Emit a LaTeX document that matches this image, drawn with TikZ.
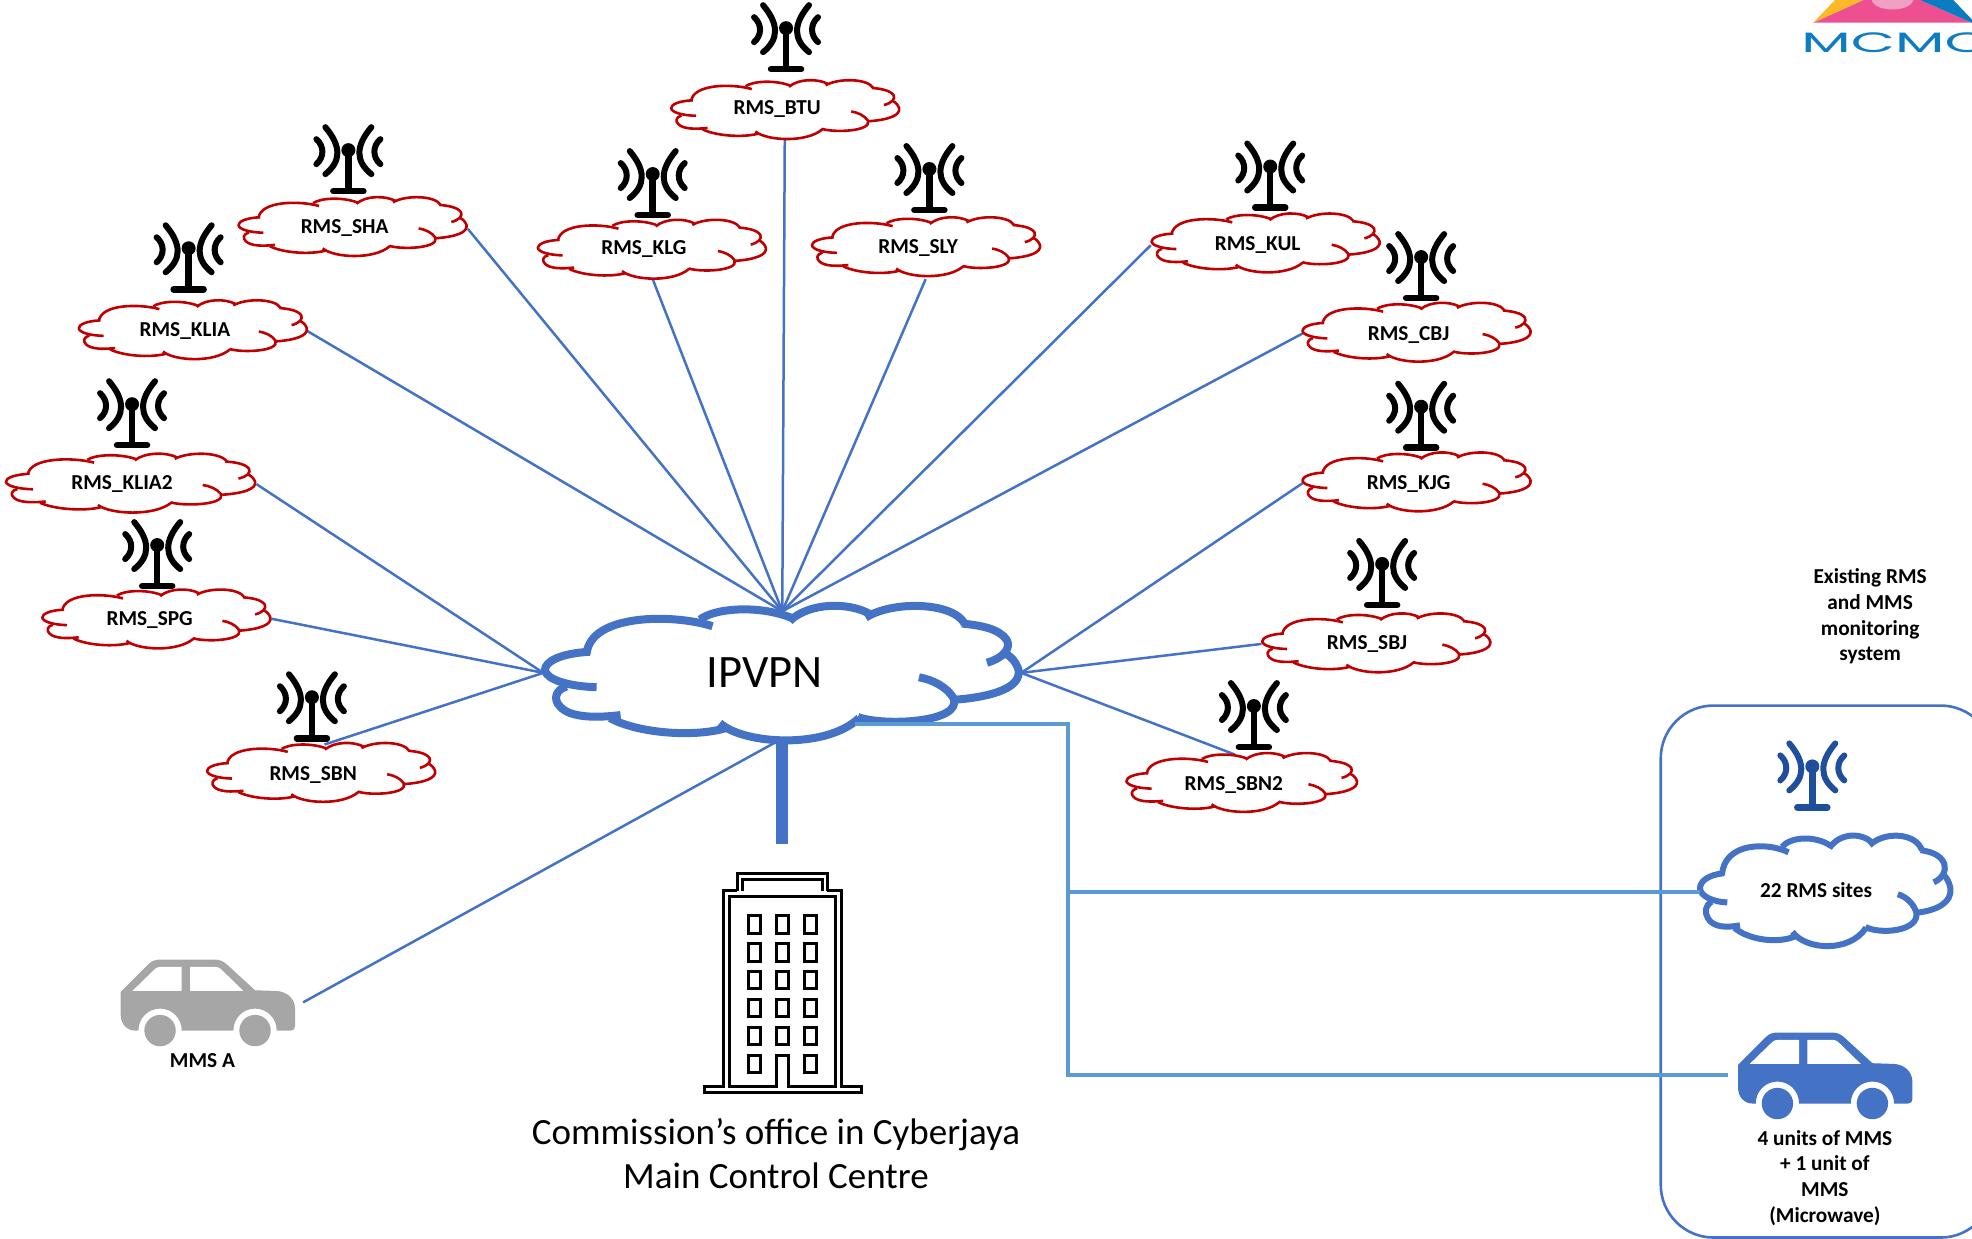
\documentclass[tikz,border=0pt]{standalone}
\usepackage{fontspec}
\setmainfont{Carlito}
\newfontfamily\logofont{Poppins}
\definecolor{mblue}{HTML}{4472C4}
\definecolor{lblue}{HTML}{5B9BD5}
\definecolor{mred}{HTML}{C00000}
\definecolor{dblue}{HTML}{1F4E9C}
\definecolor{cargrey}{HTML}{A6A6A6}
\tikzset{
  lbl/.style={font=\fontsize{21.3}{25.7}\selectfont\bfseries,text=black,inner sep=0pt,align=center},
  biglbl/.style={font=\fontsize{37}{44.5}\selectfont,text=black,inner sep=0pt,align=center},
  thinlink/.style={draw=mblue,line width=2.5pt},
  lightlink/.style={draw=lblue,line width=4pt},
  redcloud/.style={draw=mred,line width=2.6pt},
}
% cloud: left, top, width, height, style
\newcommand\cloudicon[5]{%
\begin{scope}[shift={(#1,#2)},xscale=#3/1435,yscale=#4/425,shift={(-40,-40)},#5,line join=round]
 \draw (180,185) .. controls (90,190) and (45,215) .. (45,240) .. controls (48,270) and (120,290) .. (200,292);
 \draw (110,290) .. controls (75,300) and (70,330) .. (90,350) .. controls (120,385) and (200,385) .. (272,376);
 \draw (240,385) .. controls (320,430) and (490,445) .. (590,415);
 \draw (570,400) .. controls (640,465) and (890,480) .. (988,385);
 \draw (985,382) .. controls (1060,410) and (1300,400) .. (1272,325) .. controls (1250,290) and (1210,270) .. (1168,262);
 \draw (1275,330) .. controls (1400,320) and (1475,290) .. (1467,240) .. controls (1460,215) and (1440,195) .. (1425,190);
 \draw (1372,218) .. controls (1420,205) and (1445,175) .. (1432,150) .. controls (1410,115) and (1350,105) .. (1297,100);
 \draw (1305,100) .. controls (1270,35) and (1090,30) .. (1008,82);
 \draw (1022,72) .. controls (960,35) and (840,35) .. (780,92);
 \draw (790,85) .. controls (700,45) and (560,50) .. (510,88);
 \draw (548,108) .. controls (430,70) and (180,70) .. (170,192);
\end{scope}}
% antenna: x, y of the middle of the foot, colour
\newcommand\antennaicon[3]{%
\begin{scope}[shift={(#1,#2)},x=1pt,y=1pt,#3]
 \draw[line width=6.5pt,line cap=round] (-15,0) -- (15,0);
 \draw[line width=6.5pt] (0,41) -- (0,0);
 \fill (0,41) circle (7pt);
 \foreach \s in {-1,1}{
  \draw[line width=6pt,line cap=round] (\s*23,64) .. controls (\s*7,45) and (\s*7,30) .. (\s*23,17);
  \draw[line width=6pt,line cap=round] (\s*32,52) .. controls (\s*24,45) and (\s*24,34) .. (\s*32,27);
 }
\end{scope}}
% car: left, top, colour
\newcommand\caricon[3]{%
\begin{scope}[shift={(#1,#2)},x=.3333pt,y=-.3333pt,shift={(-62,-58)}]
 \fill[#3] (62,225) -- (62,155) -- (145,72) .. controls (155,62) and (165,58) .. (175,58) -- (345,58)
   .. controls (360,58) and (372,64) .. (382,74) -- (465,150) -- (525,152) .. controls (560,152) and (585,175) .. (585,205)
   -- (585,258) .. controls (585,266) and (580,271) .. (572,271) -- (530,271)
   .. controls (530,234) and (501,205) .. (465,205) .. controls (429,205) and (400,234) .. (400,271)
   -- (245,271) .. controls (245,234) and (216,205) .. (180,205) .. controls (144,205) and (115,234) .. (115,271)
   -- (105,271) .. controls (80,271) and (62,250) .. (62,225) -- cycle;
 \fill[#3] (180,271) circle (15.7pt) (465,271) circle (15.7pt);
 \fill[white] (97,152) -- (165,86) .. controls (170,82) and (175,80) .. (180,80) -- (245,80) -- (245,152) -- cycle;
 \fill[white] (270,80) -- (345,80) .. controls (352,80) and (358,82) .. (362,86) -- (430,152) -- (270,152) -- cycle;
\end{scope}}
\begin{document}
\begin{tikzpicture}[x=1.2577pt,y=-1.2577pt]
\useasboundingbox (0,0) rectangle (1568,985.15);
\clip (0,0) rectangle (1568,985.15);

% logo
\begin{scope}[shift={(1415.3,0)},x=.3333pt,y=-.3333pt]
 \fill[color={rgb,255:red,237;green,79;blue,145}] (100,68) -- (250,0) -- (420,0) -- (575,68) -- cycle;
 \fill[color={rgb,255:red,253;green,184;blue,39}] (100,68) -- (165,0) -- (250,0) -- cycle;
 \fill[color={rgb,255:red,10;green,125;blue,194}] (420,0) -- (520,0) -- (585,68) -- (575,68) -- cycle;
 \fill[color={rgb,255:red,240;green,160;blue,195}] (275,0) .. controls (285,38) and (390,38) .. (400,0) -- cycle;
\end{scope}
\node[anchor=west,inner sep=0pt,xscale=2.05,text={rgb,255:red,14;green,124;blue,192},font=\logofont\fontsize{28}{30}\selectfont] (logo) at (1432,34) {MCMC};

% grouping frame
\draw[mblue,line width=2.6pt,rounded corners=42*1.2577pt] (1320.5,561) rectangle (1585,984);

% anchor points of the connectors
\coordinate (hubT) at (622,486);
\coordinate (hubL) at (432,535);
\coordinate (hubR) at (812,535);
\coordinate (hubB) at (617,590);
\coordinate (hubS) at (622,590);
\coordinate (hubE) at (680,576);
\coordinate (BTUe) at (624,110);
\coordinate (SHAe) at (372,182);
\coordinate (KLGe) at (519,222);
\coordinate (SLYe) at (736,222);
\coordinate (KULe) at (915,195);
\coordinate (KLIAe) at (244,263);
\coordinate (CBJe) at (1036,265);
\coordinate (KLIA2e) at (204,385);
\coordinate (SPGe) at (216,492);
\coordinate (SBNe) at (258,592);
\coordinate (KJGe) at (1036,384);
\coordinate (SBJe) at (1003,512);
\coordinate (SBN2e) at (982,600);
\coordinate (MMSe) at (241,797);
\coordinate (towerTop) at (622,671);
\coordinate (bendA) at (849,576);
\coordinate (bendB) at (849,709);
\coordinate (bendC) at (849,855);
\coordinate (sitesE) at (1352,709);
\coordinate (carE) at (1374,855);

\foreach \e in {BTUe,SHAe,KLGe,SLYe,KULe,KLIAe,CBJe} \draw[thinlink] (hubT) -- (\e);
\foreach \e in {KLIA2e,SPGe,SBNe} \draw[thinlink] (hubL) -- (\e);
\foreach \e in {KJGe,SBJe,SBN2e} \draw[thinlink] (hubR) -- (\e);
\draw[thinlink] (hubB) -- (MMSe);
\draw[draw=mblue,line width=12pt] (hubS) -- (towerTop);

% clouds
\cloudicon{533}{63}{183}{49}{redcloud}
\cloudicon{189}{156}{183}{49}{redcloud}
\cloudicon{427}{174}{183}{49}{redcloud}
\cloudicon{645}{172}{183}{49}{redcloud}
\cloudicon{915}{169}{183}{49}{redcloud}
\cloudicon{62}{238}{183}{49}{redcloud}
\cloudicon{1035}{240}{183}{49}{redcloud}
\cloudicon{4}{360}{200}{49}{redcloud}
\cloudicon{1035}{359}{183}{49}{redcloud}
\cloudicon{33}{468}{183}{49}{redcloud}
\cloudicon{1003}{487}{183}{49}{redcloud}
\cloudicon{164}{590}{183}{49}{redcloud}
\cloudicon{895}{598}{185}{49}{redcloud}
\cloudicon{432}{480}{380}{112}{draw=mblue,line width=8pt}
\cloudicon{1351}{663}{201}{92}{draw=mblue,line width=6pt}

\draw[lightlink] (hubE) -- (bendA) -- (bendB) -- (sitesE);
\draw[lightlink] (bendB) -- (bendC) -- (carE);

% antennas
\antennaicon{625}{55}{black}
\antennaicon{277}{152}{black}
\antennaicon{519}{171}{black}
\antennaicon{739}{167}{black}
\antennaicon{1010}{165}{black}
\antennaicon{150}{230}{black}
\antennaicon{1130}{237}{black}
\antennaicon{105}{354}{black}
\antennaicon{1130}{356}{black}
\antennaicon{125}{466}{black}
\antennaicon{1099}{481}{black}
\antennaicon{248}{587}{black}
\antennaicon{997}{594}{black}
\antennaicon{1441}{642}{dblue}

% labels
\node[lbl] (BTU) at (618,87) {RMS\_BTU};
\node[lbl] (SHA) at (274,181) {RMS\_SHA};
\node[lbl] (KLG) at (512,198) {RMS\_KLG};
\node[lbl] (SLY) at (730,197) {RMS\_SLY};
\node[lbl] (KUL) at (1000,195) {RMS\_KUL};
\node[lbl] (KLIA) at (147,263) {RMS\_KLIA};
\node[lbl] (CBJ) at (1120,266) {RMS\_CBJ};
\node[lbl] (KLIA2) at (97,385) {RMS\_KLIA2};
\node[lbl] (KJG) at (1120,385) {RMS\_KJG};
\node[lbl] (SPG) at (119,493) {RMS\_SPG};
\node[lbl] (SBJ) at (1087,512) {RMS\_SBJ};
\node[lbl] (SBN) at (249,616) {RMS\_SBN};
\node[lbl] (SBN2) at (981,624) {RMS\_SBN2};
\node[inner sep=0pt,font=\fontsize{46.5}{50}\selectfont] (ipvpn) at (608,535) {IPVPN};
\node[lbl] (sites) at (1444,708) {22 RMS sites};
\node[lbl] (mmsa) at (161,843) {MMS A};
\node[lbl,anchor=north] (units) at (1451,898.5) {4 units of MMS\\+ 1 unit of\\MMS\\(Microwave)};
\node[lbl,anchor=north] (existing) at (1487,452) {Existing RMS\\and MMS\\monitoring\\system};
\node[biglbl,anchor=north] (office) at (617,889) {Commission's office in Cyberjaya\\Main Control Centre};

% cars
\caricon{96}{763}{cargrey}
\caricon{1382}{821}{mblue}

% building
\begin{scope}[shift={(540.7,683.8)},x=.3333pt,y=-.3333pt]
 \begin{scope}[draw=black,line width=3pt,line join=miter]
 \draw (172,92) -- (172,42) -- (442,42) -- (442,92);
 \draw (187,92) -- (187,60) -- (428,60) -- (428,92);
 \draw (172,92) -- (130,92) -- (130,680) -- (72,680) -- (72,697) -- (545,697) -- (545,680) -- (484,680) -- (484,92) -- (442,92);
 \draw (148,680) -- (148,110) -- (466,110) -- (466,680) -- (325,680) -- (325,587) -- (290,587) -- (290,680) -- cycle;
 \foreach \yy in {168,252,335,419,503} \foreach \xx in {205,289,373}
   \draw (\xx,\yy) rectangle ++(36,52);
 \draw (205,587) rectangle ++(36,52);
 \draw (373,587) rectangle ++(36,52);
 \end{scope}
\end{scope}
\end{tikzpicture}
\end{document}
